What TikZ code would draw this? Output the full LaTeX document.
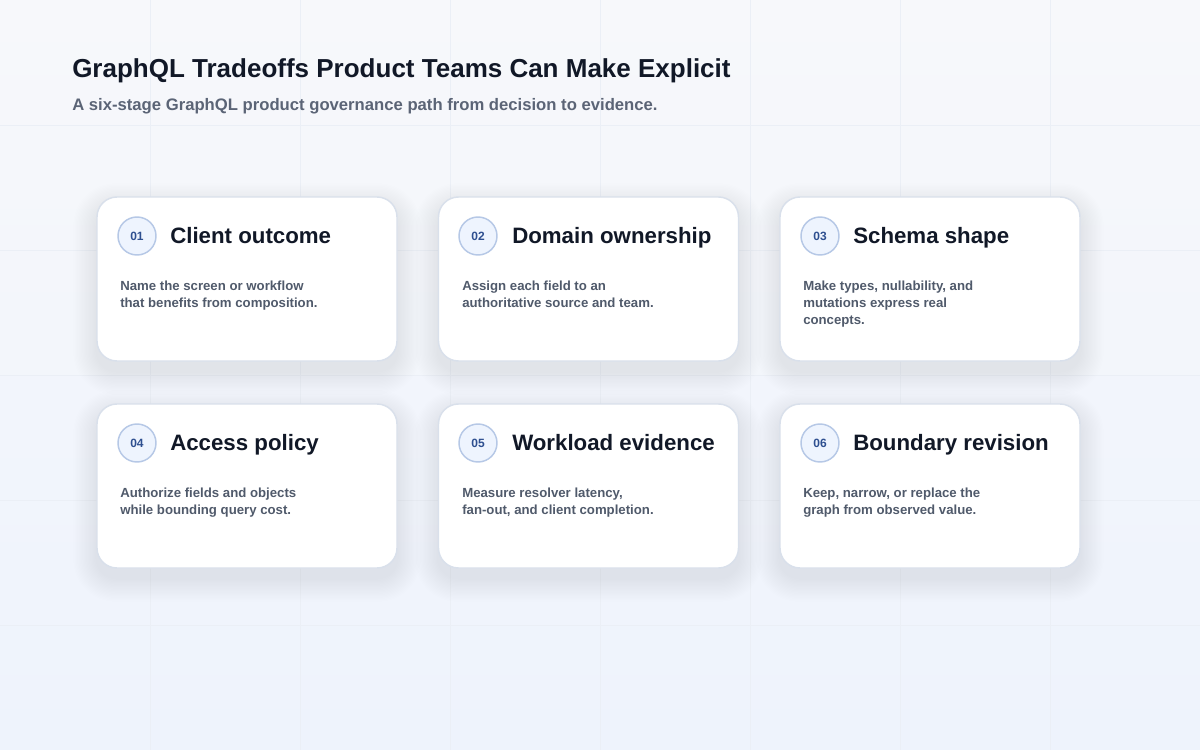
\documentclass[tikz,border=0pt]{standalone}
\usepackage{fontspec}
\setmainfont{Liberation Sans}
\definecolor{bgtop}{HTML}{F7F8FB}
\definecolor{bgbot}{HTML}{EEF3FC}
\definecolor{gridc}{HTML}{EBEFF6}
\definecolor{cardline}{HTML}{D9E0EB}
\definecolor{shadowc}{HTML}{7D89A6}
\definecolor{numfill}{HTML}{EEF4FE}
\definecolor{numline}{HTML}{B6C8E6}
\definecolor{numtext}{HTML}{2E4F90}
\definecolor{headc}{HTML}{111827}
\definecolor{subc}{HTML}{5B6476}
\definecolor{bodyc}{HTML}{505A6B}
\begin{document}
\begin{tikzpicture}[x=0.75pt,y=-0.75pt]
    \tikzstyle{every node}+=[inner sep=0pt]
    \tikzstyle{card}=[draw=cardline, line width=1.1pt, fill=white, rounded corners=15pt,
        minimum width=225pt, minimum height=123pt]
    \tikzstyle{num}=[circle, draw=numline, line width=1.1pt, fill=numfill, minimum size=28.5pt,
        text=numtext, font=\bfseries\fontsize{9}{11}\selectfont]
    \tikzstyle{head}=[anchor=base west, text=headc, font=\bfseries\fontsize{16.7}{20}\selectfont]
    \tikzstyle{body}=[anchor=base west, text=bodyc, font=\bfseries\fontsize{9.9}{12.75}\selectfont]
    % background and grid
    \useasboundingbox (0,0) rectangle (1200,750);
    \shade [top color=bgtop, bottom color=bgbot] (0,0) rectangle (1200,750);
    \foreach \x in {150,300,...,1050}
        \draw [gridc, line width=0.75pt] (\x,0) -- (\x,750);
    \foreach \y in {125,250,...,625}
        \draw [gridc, line width=0.75pt] (0,\y) -- (1200,\y);
    % soft shadows under the cards
    \foreach \cx/\cy in {247/279, 588.5/279, 930/279, 247/486, 588.5/486, 930/486}
        \foreach \k in {1,...,18}
            \fill [shadowc, opacity=0.008, rounded corners=15pt+0.9*\k pt]
                (\cx-150-1.3*\k, \cy-82-1.3*\k+10) rectangle (\cx+150+1.3*\k, \cy+82+1.3*\k+10);
    % title
    \node [anchor=base west, text=headc, font=\bfseries\fontsize{19.5}{23}\selectfont] (title) at (72,77)
        {GraphQL Tradeoffs Product Teams Can Make Explicit};
    \node [anchor=base west, text=subc, font=\bfseries\fontsize{12.5}{15}\selectfont] (subtitle) at (72,110)
        {A six-stage GraphQL product governance path from decision to evidence.};
    % row 1
    \node [card] (card1) at (247,279) {};
    \node [num] (num1) at (137,236) {01};
    \node [head] (head1) at (170,243) {Client outcome};
    \node [body] (text1) at (120,290) {\begin{tabular}[t]{@{}l@{}}Name the screen or workflow\\that benefits from composition.\end{tabular}};
    \node [card] (card2) at (588.5,279) {};
    \node [num] (num2) at (478,236) {02};
    \node [head] (head2) at (512,243) {Domain ownership};
    \node [body] (text2) at (462,290) {\begin{tabular}[t]{@{}l@{}}Assign each field to an\\authoritative source and team.\end{tabular}};
    \node [card] (card3) at (930,279) {};
    \node [num] (num3) at (820,236) {03};
    \node [head] (head3) at (853,243) {Schema shape};
    \node [body] (text3) at (803,290) {\begin{tabular}[t]{@{}l@{}}Make types, nullability, and\\mutations express real\\concepts.\end{tabular}};
    % row 2
    \node [card] (card4) at (247,486) {};
    \node [num] (num4) at (137,443) {04};
    \node [head] (head4) at (170,450) {Access policy};
    \node [body] (text4) at (120,497) {\begin{tabular}[t]{@{}l@{}}Authorize fields and objects\\while bounding query cost.\end{tabular}};
    \node [card] (card5) at (588.5,486) {};
    \node [num] (num5) at (478,443) {05};
    \node [head] (head5) at (512,450) {Workload evidence};
    \node [body] (text5) at (462,497) {\begin{tabular}[t]{@{}l@{}}Measure resolver latency,\\fan-out, and client completion.\end{tabular}};
    \node [card] (card6) at (930,486) {};
    \node [num] (num6) at (820,443) {06};
    \node [head] (head6) at (853,450) {Boundary revision};
    \node [body] (text6) at (803,497) {\begin{tabular}[t]{@{}l@{}}Keep, narrow, or replace the\\graph from observed value.\end{tabular}};
\end{tikzpicture}
\end{document}
